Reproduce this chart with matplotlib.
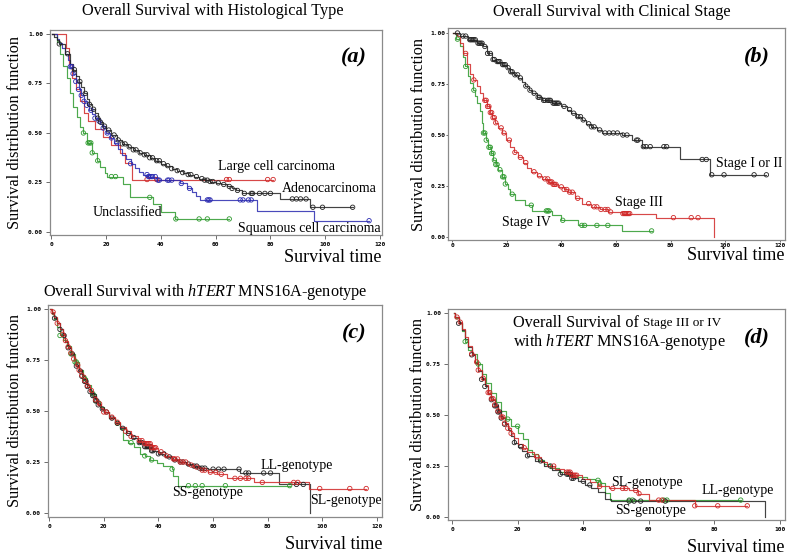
import numpy as np
import matplotlib
matplotlib.use("Agg")
from matplotlib import pyplot as plt

plt.rcParams['font.family'] = 'Liberation Serif'
plt.rcParams['mathtext.fontset'] = 'custom'
plt.rcParams['mathtext.rm'] = 'Liberation Serif'
plt.rcParams['mathtext.it'] = 'Liberation Serif:italic'

BLACK = '#222222'
RED = '#d02828'
BLUE = '#2a2ab0'
GREEN = '#2e9a2e'

# ---- (a) histological type ----
adeno_t = [1, 2, 3, 5, 7, 8, 9, 10, 11, 12, 13, 14, 15, 16, 17, 18, 19, 20, 22, 24, 26, 28, 30, 32, 34, 36, 38,
           40, 42, 44, 46, 48, 50, 52, 54, 56, 58, 60, 62, 64, 66, 67.5, 69.5, 83.5, 94.5]
adeno_s = [0.985, 0.97, 0.95, 0.90, 0.85, 0.82, 0.79, 0.76, 0.73, 0.70, 0.67, 0.645, 0.62, 0.60, 0.575, 0.555,
           0.535, 0.515, 0.49, 0.465, 0.445, 0.43, 0.415, 0.40, 0.39, 0.375, 0.36, 0.345, 0.335, 0.32, 0.31, 0.30,
           0.29, 0.28, 0.27, 0.262, 0.255, 0.248, 0.24, 0.23, 0.22, 0.21, 0.195, 0.167, 0.125]
adeno_end = 110
adeno_c = [3, 6, 8.5, 10.5, 12.5, 14, 15.5, 17, 18, 19.5, 21, 23, 24.5, 26, 27, 28.5, 30, 31, 32.5, 34, 35, 36, 37,
           38.5, 39.5, 41, 42.5, 44, 46, 48, 50, 51, 53, 55, 56, 57, 58, 59, 61, 63, 65, 66, 68, 70.5, 73, 73.5, 76,
           78, 80, 88, 89.5, 91, 93, 95.5, 99, 110]

squam_t = [2, 3, 4, 5, 6, 7, 8, 9, 10, 11, 12, 13, 14, 15, 16, 17, 18, 19, 20, 21.5, 23, 24.5, 26, 27.5, 29, 30.5,
           32, 33.5, 35.5, 38.5, 47, 49.5, 51.3, 53, 54.3, 75, 96]
squam_s = [0.975, 0.955, 0.93, 0.90, 0.87, 0.835, 0.80, 0.76, 0.72, 0.69, 0.66, 0.64, 0.615, 0.595, 0.575, 0.56,
           0.545, 0.525, 0.50, 0.475, 0.45, 0.42, 0.39, 0.37, 0.345, 0.325, 0.305, 0.29, 0.28, 0.262, 0.245, 0.22,
           0.20, 0.18, 0.162, 0.108, 0.057]
squam_end = 116
squam_c = [7, 7.5, 8, 9, 10, 11, 12, 13, 14.5, 16, 17.5, 19, 20.5, 22, 24, 29, 35, 35.5, 36, 36.5, 37, 38, 39,
           39.5, 42.5, 43, 44, 47.5, 50.5, 57, 57.5, 58, 69, 70, 72, 73, 116]

large_t = [5.3, 6.5, 7.5, 9, 10.5, 12, 13.5, 16, 19, 22, 25, 27, 29.5]
large_s = [0.93, 0.85, 0.78, 0.72, 0.66, 0.60, 0.56, 0.52, 0.48, 0.44, 0.40, 0.35, 0.265]
large_end = 81
large_c = [35, 38.5, 64, 65, 79, 81]

uncl_t = [2, 3.3, 4.5, 5.7, 7, 8.1, 9.3, 10.6, 11.8, 13, 14.8, 16.7, 17.9, 19.7, 20.3, 26.4, 28.8, 37, 40, 45.2]
uncl_s = [0.96, 0.90, 0.84, 0.78, 0.70, 0.63, 0.58, 0.53, 0.50, 0.45, 0.40, 0.36, 0.33, 0.30, 0.28, 0.24, 0.175,
          0.14, 0.10, 0.066]
uncl_end = 65
uncl_c = [11.8, 13.5, 14, 14.5, 15, 17, 22, 23.5, 36, 45.5, 54, 57, 65]

# ---- (b) clinical stage ----
st12_t = [3, 6, 9, 11.5, 12.7, 14.5, 16, 18.2, 20, 21.2, 22.5, 24.3, 25.5, 26.7, 28, 29.1, 31, 32.8, 36.5, 40, 42,
          43.7, 45.5, 47.4, 49, 51, 53, 54.8, 62, 65.7, 69.4, 83.4, 94.4]
st12_s = [0.985, 0.967, 0.95, 0.934, 0.90, 0.87, 0.86, 0.845, 0.83, 0.81, 0.795, 0.78, 0.76, 0.74, 0.72, 0.705,
          0.685, 0.67, 0.656, 0.64, 0.625, 0.607, 0.59, 0.574, 0.555, 0.54, 0.525, 0.51, 0.50, 0.475, 0.443, 0.38,
          0.305]
st12_end = 115
st12_c = [2, 4, 5, 6.5, 7, 7.5, 8, 8.5, 9.5, 10, 10.5, 11, 12, 13, 14, 15, 15.5, 16.5, 17, 17.5, 18.5, 19, 19.5,
          20.5, 21.5, 22, 23, 24, 25, 27, 28.5, 30, 31.5, 32, 33.5, 34, 35, 35.5, 36, 37, 37.5, 38, 38.5, 39, 41, 43,
          44.5, 46, 47, 48, 50, 51, 52, 54, 56, 57.5, 59, 60.5, 62.5, 64, 67.5, 68, 70, 71, 72.5, 77.5, 78.5, 91.5,
          93, 95, 99.5, 110.5, 115]

st3_t = [1.7, 3, 4.1, 5.3, 6.6, 7.8, 9, 10.2, 11.5, 12.7, 13.9, 14.8, 15.7, 17, 18.2, 19.7, 21.2, 22.7, 24.3, 25.8,
         27.3, 29, 31, 33, 35.2, 37, 38.9, 40.8, 42.6, 45, 47.4, 51, 54, 57.2, 62, 74.5, 96]
st3_s = [0.984, 0.95, 0.90, 0.85, 0.80, 0.77, 0.74, 0.705, 0.67, 0.64, 0.61, 0.585, 0.56, 0.535, 0.51, 0.475, 0.44,
         0.415, 0.39, 0.365, 0.34, 0.32, 0.30, 0.285, 0.27, 0.258, 0.246, 0.233, 0.22, 0.19, 0.164, 0.148, 0.135,
         0.123, 0.115, 0.095, 0.0]
st3_end = 96
st3_c = [5, 8, 12, 12.5, 13, 13.5, 14, 14.5, 15, 15.5, 16, 18, 19, 21, 23, 25, 27, 30, 32, 34, 35, 35.5, 36, 36.5,
         37, 37.5, 38, 40, 41, 42, 43, 44, 46, 50, 52, 53, 54.5, 56, 57, 58, 62.5, 63, 63.5, 64, 64.5, 65, 81, 87.5,
         90]

st4_t = [1.5, 3, 4, 4.8, 5.7, 6.6, 7.5, 8.4, 9.3, 10.2, 11, 11.5, 12.4, 13.3, 14.2, 15.1, 16, 17, 18.2, 19.4, 20.3,
         21.2, 23, 26.7, 29.1, 36.5, 40, 46.2, 62]
st4_s = [0.97, 0.934, 0.88, 0.836, 0.79, 0.754, 0.72, 0.69, 0.655, 0.62, 0.56, 0.51, 0.475, 0.44, 0.41, 0.377,
         0.355, 0.33, 0.295, 0.26, 0.235, 0.21, 0.18, 0.156, 0.128, 0.107, 0.082, 0.057, 0.03]
st4_end = 73
st4_c = [2, 5, 8, 11.5, 12, 12.5, 13.5, 14, 14.5, 15, 15.5, 16, 16.5, 17.5, 18.5, 19, 19.5, 22, 29, 34.5, 35, 35.5,
         40.5, 47.5, 48.5, 53, 57, 73]

# ---- (c) hTERT genotype, all patients ----
c_ll_t = [1, 2, 3, 4, 5, 6, 7, 8, 9, 10, 11, 12, 13, 14, 15, 16, 17, 18, 19, 20, 22, 24, 26, 28, 30, 32.5, 35,
          37.5, 40, 42.5, 45, 47.5, 50, 52.5, 55, 58, 70, 84, 95.5]
c_ll_s = [0.98, 0.955, 0.93, 0.90, 0.87, 0.84, 0.81, 0.78, 0.75, 0.72, 0.695, 0.67, 0.645, 0.62, 0.595, 0.575,
          0.55, 0.53, 0.51, 0.495, 0.465, 0.44, 0.415, 0.39, 0.37, 0.345, 0.325, 0.305, 0.29, 0.275, 0.26, 0.25,
          0.24, 0.23, 0.22, 0.215, 0.196, 0.14, 0.0]
c_ll_end = 95.5
c_ll_c = [2, 4, 5.5, 7, 8.5, 10, 11.5, 12, 13, 13.5, 14, 15, 16, 16.5, 17, 17.5, 18, 19.5, 21, 23, 25, 27, 29, 31,
          33, 34, 35, 35.5, 36, 36.5, 37, 37.5, 38, 40, 42, 44, 46, 48, 49, 51, 53, 54, 55, 56, 57, 60, 62, 64,
          69.5, 72, 73, 78.5, 81, 90.5, 93]

c_ss_t = [1, 2, 3, 4, 5, 6.5, 8, 9.5, 11, 12.5, 14, 15.5, 17, 18.5, 20, 22, 24, 26, 27.2, 29, 31, 33.3, 35, 37,
          39.5, 41.8, 44.9, 45.5, 47.3]
c_ss_s = [0.975, 0.95, 0.91, 0.87, 0.85, 0.82, 0.78, 0.74, 0.70, 0.66, 0.625, 0.585, 0.55, 0.52, 0.495, 0.465,
          0.44, 0.41, 0.36, 0.345, 0.325, 0.29, 0.28, 0.26, 0.245, 0.228, 0.215, 0.18, 0.134]
c_ss_end = 88
c_ss_c = [4, 8, 9.5, 10, 13, 16, 17, 25, 30, 35, 37.5, 45, 51, 53.5, 56, 64.5, 88]

c_sl_t = [1, 2, 3, 4, 5, 6, 7, 8, 9, 10, 11, 12, 13, 14, 15, 16, 17, 18, 19, 20, 22, 24, 26, 28, 30, 32.5, 35,
          37.5, 40, 42.5, 45, 47.5, 50.4, 52.5, 55.2, 58, 61.3, 65, 75, 95]
c_sl_s = [0.985, 0.96, 0.93, 0.90, 0.875, 0.845, 0.815, 0.785, 0.755, 0.725, 0.70, 0.675, 0.65, 0.625, 0.60,
          0.575, 0.555, 0.535, 0.515, 0.495, 0.47, 0.445, 0.42, 0.40, 0.375, 0.355, 0.34, 0.32, 0.30, 0.28, 0.265,
          0.25, 0.235, 0.225, 0.21, 0.20, 0.19, 0.17, 0.15, 0.12]
c_sl_end = 116
c_sl_c = [1.5, 3, 5, 6, 7, 8, 9, 10.5, 11, 12, 13, 14, 15.5, 17, 18.5, 20, 21, 23, 25, 28, 30, 33, 34, 35, 35.5,
          36, 36.5, 37, 37.5, 38, 38.5, 39, 41, 43, 45.5, 46, 47, 48, 49, 50, 52, 54, 56, 57, 59, 61, 63, 68, 70,
          72, 73, 78, 89.5, 91, 99, 110, 116]

# ---- (d) hTERT genotype, stage III or IV ----
d_ll_t = [1, 2, 3, 4, 5, 6, 7, 8, 9, 10, 11, 12, 13, 14, 15, 16, 17, 18, 19, 20, 21.2, 23, 25.3, 28, 30.4, 33,
          36.5, 38.5, 40.5, 42.5, 44.6, 46.6, 48.5, 95.5]
d_ll_s = [0.98, 0.95, 0.915, 0.875, 0.835, 0.795, 0.755, 0.715, 0.675, 0.64, 0.605, 0.575, 0.545, 0.515, 0.485,
          0.455, 0.425, 0.395, 0.365, 0.345, 0.325, 0.30, 0.275, 0.25, 0.23, 0.21, 0.19, 0.175, 0.157, 0.14, 0.124,
          0.09, 0.078, 0.0]
d_ll_end = 95.5
d_ll_c = [2, 6, 9, 10, 12, 13, 13.5, 14, 14.5, 15, 16, 19, 21, 23, 27, 30, 33, 35, 35.5, 36, 36.5, 37, 40, 42, 54,
          55.5, 57.5, 65]

d_ss_t = [1, 2, 3, 4, 5, 6, 7.5, 9, 10.5, 12, 13.5, 15, 16.5, 18, 20.2, 21.7, 23.3, 24.5, 26.3, 28, 30, 32.5, 35,
          38, 41, 43.6, 45, 46.6, 48.2]
d_ss_s = [0.975, 0.95, 0.91, 0.86, 0.82, 0.80, 0.75, 0.70, 0.655, 0.61, 0.565, 0.52, 0.48, 0.445, 0.41, 0.38,
          0.33, 0.31, 0.28, 0.26, 0.24, 0.22, 0.205, 0.195, 0.185, 0.18, 0.165, 0.116, 0.083]
d_ss_end = 88
d_ss_c = [4, 8, 17, 20, 44.5, 45, 54, 55, 64.5, 65.5, 88]

d_sl_t = [1, 2, 3, 4, 5, 6, 7, 8, 9, 10, 11, 12, 13, 14, 15, 16, 17, 18, 19, 20, 21.5, 23, 25, 27, 29, 31.5, 34,
          36.5, 39.5, 42, 44.6, 47.7, 53.8, 56.8, 59.9, 74]
d_sl_s = [0.98, 0.955, 0.92, 0.88, 0.84, 0.80, 0.76, 0.72, 0.68, 0.645, 0.61, 0.58, 0.55, 0.52, 0.49, 0.46, 0.435,
          0.41, 0.385, 0.36, 0.34, 0.32, 0.295, 0.27, 0.25, 0.235, 0.22, 0.205, 0.185, 0.17, 0.15, 0.14, 0.13, 0.115,
          0.083, 0.055]
d_sl_end = 90
d_sl_c = [1.5, 2.5, 6, 7.5, 8, 9.5, 11, 11.5, 12, 12.5, 13, 14, 15, 15.5, 16, 17, 18, 22, 26, 31, 35, 35.5, 36,
          36.5, 37, 37.5, 38, 45, 49, 52, 53, 56, 57, 63, 64, 74, 81, 90]


def km(ax, t, s, end, cens, color):
    # step curve + open circles at censored times
    xs = np.array([0.5] + t + [end])
    ys = np.array([1.0] + s + [s[-1]])
    ax.step(xs, ys, where='post', color=color, lw=0.85, alpha=0.85)
    idx = np.searchsorted(xs, cens, side='right') - 1
    ax.scatter(cens, ys[idx], s=10, facecolors='none', edgecolors=color, linewidths=0.6, zorder=3)


def style(ax, xmax, xlim, ylim, tlen=3, tpad=2):
    ax.set_xlim(*xlim)
    ax.set_ylim(*ylim)
    ax.set_xticks(np.arange(0, xmax + 1, 20))
    ax.set_yticks([0, 0.25, 0.5, 0.75, 1.0])
    ax.set_yticklabels(['0.00', '0.25', '0.50', '0.75', '1.00'])
    for sp in ax.spines.values():
        sp.set_color('#8a8a8a')
        sp.set_linewidth(0.9)
    ax.tick_params(length=tlen, width=0.6, color='#555555', pad=tpad)
    for lab in ax.get_xticklabels() + ax.get_yticklabels():
        lab.set_fontfamily('DejaVu Sans Mono')
        lab.set_fontsize(4.5)
        lab.set_fontweight('bold')


fig = plt.figure(figsize=(7.91, 5.6), dpi=100)

ax_a = fig.add_axes([0.0632, 0.5804, 0.4197, 0.366])
ax_b = fig.add_axes([0.5664, 0.5714, 0.426, 0.3786])
ax_c = fig.add_axes([0.0607, 0.0768, 0.4223, 0.3786])
ax_d = fig.add_axes([0.5664, 0.0714, 0.426, 0.3768])

LBL = 10

# (a)
km(ax_a, uncl_t, uncl_s, uncl_end, uncl_c, GREEN)
km(ax_a, large_t, large_s, large_end, large_c, RED)
km(ax_a, squam_t, squam_s, squam_end, squam_c, BLUE)
km(ax_a, adeno_t, adeno_s, adeno_end, adeno_c, BLACK)
style(ax_a, 120, (-0.4, 120.7), (-0.015, 1.02))
ax_a.text(61, 0.333, 'Large cell carcinoma', fontsize=LBL, va='center')
ax_a.text(84, 0.22, 'Adenocarcinoma', fontsize=LBL, va='center')
ax_a.text(15, 0.10, 'Unclassified', fontsize=LBL, va='center')
ax_a.text(68, 0.02, 'Squamous cell carcinoma', fontsize=LBL, va='center')
ax_a.text(0.955, 0.865, '(a)', transform=ax_a.transAxes, fontsize=16, fontweight='bold',
          fontstyle='italic', ha='right', va='center')

# (b)
km(ax_b, st4_t, st4_s, st4_end, st4_c, GREEN)
km(ax_b, st3_t, st3_s, st3_end, st3_c, RED)
km(ax_b, st12_t, st12_s, st12_end, st12_c, BLACK)
style(ax_b, 120, (-1.46, 121.8), (-0.0147, 1.0245), tlen=1.5, tpad=0.5)
ax_b.text(96.6, 0.358, 'Stage I or II', fontsize=LBL, va='center')
ax_b.text(59.6, 0.17, 'Stage III', fontsize=LBL, va='center')
ax_b.text(18.3, 0.073, 'Stage IV', fontsize=LBL, va='center')
ax_b.text(0.955, 0.865, '(b)', transform=ax_b.transAxes, fontsize=16, fontweight='bold',
          fontstyle='italic', ha='right', va='center')

# (c)
km(ax_c, c_ss_t, c_ss_s, c_ss_end, c_ss_c, GREEN)
km(ax_c, c_ll_t, c_ll_s, c_ll_end, c_ll_c, BLACK)
km(ax_c, c_sl_t, c_sl_s, c_sl_end, c_sl_c, RED)
style(ax_c, 120, (-0.37, 121.8), (-0.0196, 1.0196))
ax_c.text(77.2, 0.235, 'LL-genotype', fontsize=LBL, va='center')
ax_c.text(45, 0.098, 'SS-genotype', fontsize=LBL, va='center')
ax_c.text(95.5, 0.06, 'SL-genotype', fontsize=LBL, va='center')
ax_c.text(0.955, 0.865, '(c)', transform=ax_c.transAxes, fontsize=16, fontweight='bold',
          fontstyle='italic', ha='right', va='center')

# (d)
km(ax_d, d_ss_t, d_ss_s, d_ss_end, d_ss_c, GREEN)
km(ax_d, d_ll_t, d_ll_s, d_ll_end, d_ll_c, BLACK)
km(ax_d, d_sl_t, d_sl_s, d_sl_end, d_sl_c, RED)
style(ax_d, 100, (-1.22, 101.5), (-0.0147, 1.0196))
ax_d.text(48.5, 0.168, 'SL-genotype', fontsize=LBL, va='center')
ax_d.text(76.2, 0.132, 'LL-genotype', fontsize=LBL, va='center')
ax_d.text(49.7, 0.034, 'SS-genotype', fontsize=LBL, va='center')
ax_d.text(0.955, 0.865, '(d)', transform=ax_d.transAxes, fontsize=16, fontweight='bold',
          fontstyle='italic', ha='right', va='center')
t1 = ax_d.text(0.193, 0.934, 'Overall Survival of ', transform=ax_d.transAxes, fontsize=11.7, va='center')
ax_d.annotate('Stage III or IV', xy=(1, 0.12), xycoords=t1, fontsize=9.5, va='bottom')
ax_d.text(0.507, 0.844, r'with $\mathit{hTERT}$ MNS16A-genotype', transform=ax_d.transAxes,
          fontsize=11.7, ha='center', va='center')

# titles
fig.text(0.2687, 0.980, 'Overall Survival with Histological Type', fontsize=11.7, ha='center', va='center')
fig.text(0.773, 0.979, 'Overall Survival with Clinical Stage', fontsize=11.7, ha='center', va='center')
fig.text(0.260, 0.479, r'Overall Survival with $\mathit{hTERT}$ MNS16A-genotype', fontsize=11.7,
         ha='center', va='center')

# axis labels
for ax, xl in [(ax_a, 0.019), (ax_b, 0.530), (ax_c, 0.019), (ax_d, 0.528)]:
    pos = ax.get_position()
    fig.text(xl, pos.y0 + pos.height / 2, 'Survival distribution function', fontsize=11.7,
             rotation=90, ha='center', va='center')
for ax, yl in [(ax_a, 0.541), (ax_b, 0.544), (ax_c, 0.027), (ax_d, 0.023)]:
    pos = ax.get_position()
    fig.text(pos.x1, yl, 'Survival time', fontsize=13, ha='right', va='center')

fig.savefig('out.png', dpi=100)
